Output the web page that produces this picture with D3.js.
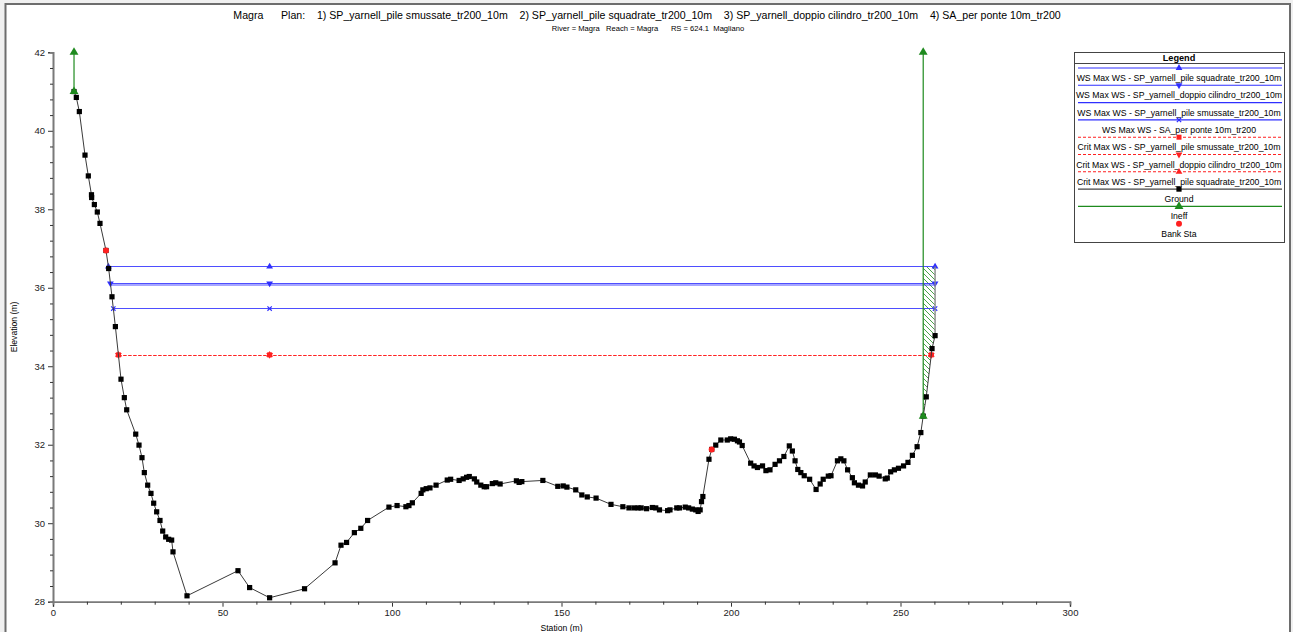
<!DOCTYPE html>
<html>
<head>
<meta charset="utf-8">
<script src="https://cdn.jsdelivr.net/npm/d3@7"></script>
<style>
  html, body { margin: 0; padding: 0; background: #ffffff; }
  svg { display: block; font-family: "Liberation Sans", Arial, sans-serif; }
</style>
</head>
<body>
<svg id="chart" width="1293" height="632"></svg>
<script>
// ---- Cross-section data: River Magra, RS 624.1 Magliano ----
const groundSta = [
  6.2, 6.88, 7.77, 9.44, 10.42, 11.35, 11.4, 12.2, 13.07, 13.86, 15.63, 16.42, 17.4, 18.4,
  20.06, 21.04, 21.74, 24.4, 25.37, 26.25, 26.94, 27.93, 28.9, 29.7, 30.58, 31.56, 32.36,
  33.24, 34.12, 35.0, 35.4, 39.53, 54.57, 58.0, 63.9, 74.2, 83.2, 84.96, 86.6, 88.9, 90.8,
  92.8, 99.1, 101.5, 104.1, 105.0, 106.0, 108.6, 109.1, 110.1, 111.2, 113.0, 116.3, 117.3,
  119.8, 121.0, 122.0, 122.8, 124.3, 125.0, 126.2, 127.2, 127.9, 129.6, 130.6, 131.9, 136.7,
  137.5, 138.3, 144.5, 148.9, 150.5, 151.6, 154.2, 156.0, 157.6, 160.2, 164.6, 168.1, 169.9,
  171.4, 172.6, 173.5, 175.1, 176.8, 177.8, 178.9, 181.3, 182.0, 184.0, 184.8, 186.5, 187.5,
  188.6, 189.6, 190.3, 190.9, 191.3, 191.7, 193.5, 194.3, 195.5, 197.0, 198.9, 199.9, 201.0,
  201.9, 202.5, 203.3, 205.8, 206.8, 207.8, 209.3, 210.3, 211.5, 213.0, 214.3, 215.6, 217.2,
  218.1, 218.9, 219.7, 220.6, 221.6, 223.2, 225.1, 226.3, 227.2, 228.7, 229.5, 231.4, 232.4,
  233.3, 234.4, 235.8, 236.4, 237.6, 238.8, 239.6, 241.1, 242.6, 243.7, 245.5, 246.1, 247.1,
  248.2, 249.4, 250.9, 252.2, 253.5, 254.9, 256.0, 256.7, 257.6, 259.3, 260.2
];
const groundElev = [
  41.0, 40.85, 40.49, 39.38, 38.85, 38.37, 38.30, 38.12, 37.93, 37.64, 36.95, 36.49, 35.77, 35.01,
  33.67, 33.20, 32.89, 32.27, 31.99, 31.67, 31.29, 30.97, 30.76, 30.51, 30.29, 30.07, 29.80,
  29.65, 29.59, 29.57, 29.27, 28.15, 28.79, 28.36, 28.10, 28.33, 28.99, 29.44, 29.51, 29.76, 29.87,
  30.07, 30.41, 30.45, 30.42, 30.45, 30.52, 30.76, 30.85, 30.88, 30.90, 30.97, 31.10, 31.12,
  31.09, 31.13, 31.17, 31.19, 31.13, 31.05, 30.97, 30.93, 30.93, 31.01, 31.03, 31.00, 31.08,
  31.04, 31.06, 31.09, 30.94, 30.95, 30.92, 30.85, 30.72, 30.67, 30.64, 30.48, 30.42, 30.39,
  30.39, 30.39, 30.39, 30.37, 30.40, 30.39, 30.34, 30.32, 30.34, 30.39, 30.39, 30.41, 30.39,
  30.36, 30.34, 30.30, 30.34, 30.55, 30.68, 31.63, 31.88, 31.99, 32.12, 32.12, 32.15, 32.14,
  32.10, 32.07, 31.98, 31.53, 31.46, 31.42, 31.46, 31.34, 31.36, 31.50, 31.59, 31.70, 31.97,
  31.84, 31.59, 31.37, 31.29, 31.21, 31.12, 30.86, 31.00, 31.12, 31.20, 31.21, 31.59, 31.64,
  31.59, 31.36, 31.16, 31.03, 30.97, 30.95, 31.05, 31.23, 31.23, 31.20, 31.13, 31.15, 31.31,
  31.36, 31.40, 31.46, 31.55, 31.73, 31.95, 32.31, 32.73, 33.22, 34.45, 34.78
];
const bankSta = [15.63, 194.3];

// Ineffective flow limits (station, bottom elevation, top elevation)
const ineffSta = [6.2, 256.7];
const ineffLow = [41.0, 32.73];
const ineffHigh = [42.0, 42.0];

// Max water surface of each plan
const wsNames = [
  "WS Max WS - SP_yarnell_pile squadrate_tr200_10m",
  "WS Max WS - SP_yarnell_doppio cilindro_tr200_10m",
  "WS Max WS - SP_yarnell_pile smussate_tr200_10m",
  "WS Max WS - SA_per ponte 10m_tr200"
];
const wsElev = [36.54, 36.11, 36.07, 35.47];
const wsSymbol = ["triUp", "triDown", "none", "x"];

// Critical water surface of each plan
const critNames = [
  "Crit Max WS - SP_yarnell_pile smussate_tr200_10m",
  "Crit Max WS - SP_yarnell_doppio cilindro_tr200_10m",
  "Crit Max WS - SP_yarnell_pile squadrate_tr200_10m"
];
const critElev = [34.29, 34.29, 34.29];
const critSymbol = ["dot", "triDown", "triUp"];

const xTicks = [0, 50, 100, 150, 200, 250, 300];
const yTicks = [28, 30, 32, 34, 36, 38, 40, 42];

const titleText = "Magra      Plan:    1) SP_yarnell_pile smussate_tr200_10m    2) SP_yarnell_pile squadrate_tr200_10m    3) SP_yarnell_doppio cilindro_tr200_10m    4) SA_per ponte 10m_tr200";
const subtitleText = "River = Magra   Reach = Magra      RS = 624.1  Magliano";

// ---- Layout ----
const svg = d3.select("#chart");
const W = 1293, H = 632;
const x = d3.scaleLinear().domain([0, 300]).range([53, 1070]);
const y = d3.scaleLinear().domain([28, 42]).range([601.7, 52.3]);

const BLUE = "#2f2fff", RED = "#ff2020", GREEN = "#1e8a1e", GROUND = "#3a3a3a";

// window frame
svg.append("rect").attr("x", 0).attr("y", 0).attr("width", W).attr("height", H).attr("fill", "#f0f0f0");
svg.append("rect").attr("x", 5.5).attr("y", 4).attr("width", 1284.5).attr("height", H + 10)
  .attr("fill", "#ffffff").attr("stroke", "#6d6d6d").attr("stroke-width", 2);

// titles
svg.append("text").attr("x", 647).attr("y", 19).attr("text-anchor", "middle")
  .attr("font-size", 10.6).attr("fill", "#000").style("white-space", "pre").text(titleText);
svg.append("text").attr("x", 648).attr("y", 31).attr("text-anchor", "middle")
  .attr("font-size", 7.6).attr("fill", "#000").style("white-space", "pre").text(subtitleText);

// ---- helpers ----
const ground = groundSta.map((s, i) => ({ s, e: groundElev[i] }));
function leftCross(e) {
  for (let i = 0; i < ground.length - 1; i++) {
    const a = ground[i], b = ground[i + 1];
    if (a.e >= e && b.e < e) return a.s + (a.e - e) / (a.e - b.e) * (b.s - a.s);
  }
  return ground[0].s;
}
function rightCross(e) {
  const last = ground[ground.length - 1];
  if (last.e < e) return last.s;
  for (let i = ground.length - 1; i > 0; i--) {
    const a = ground[i - 1], b = ground[i];
    if (a.e < e && b.e >= e) return a.s + (e - a.e) / (b.e - a.e) * (b.s - a.s);
  }
  return last.s;
}
const thalweg = ground.reduce((m, p) => (p.e < m.e ? p : m), ground[0]);

function drawSymbol(g, kind, cx, cy, color) {
  if (kind === "triUp" || kind === "triDown") {
    g.append("path").attr("d", d3.symbol(d3.symbolTriangle, 20)())
      .attr("transform", `translate(${cx},${cy})` + (kind === "triDown" ? " rotate(180)" : ""))
      .attr("fill", color);
  } else if (kind === "x") {
    g.append("path").attr("d", d3.symbol(d3.symbolX, 14)())
      .attr("transform", `translate(${cx},${cy})`).attr("fill", "none")
      .attr("stroke", color).attr("stroke-width", 1.2);
  } else if (kind === "dot") {
    g.append("rect").attr("x", cx - 2.5).attr("y", cy - 2.5).attr("width", 5).attr("height", 5).attr("fill", color);
  } else if (kind === "square") {
    g.append("rect").attr("x", cx - 2.6).attr("y", cy - 2.6).attr("width", 5.2).attr("height", 5.2).attr("fill", color);
  } else if (kind === "circle") {
    g.append("circle").attr("cx", cx).attr("cy", cy).attr("r", 3).attr("fill", color);
  } else if (kind === "greenTri") {
    g.append("path").attr("d", d3.symbol(d3.symbolTriangle, 34)())
      .attr("transform", `translate(${cx},${cy})`).attr("fill", color);
  }
}

// ---- axes ----
const axisColor = "#7a7a7a";
const gx = svg.append("g").attr("transform", `translate(0,${y(28)})`);
gx.call(d3.axisBottom(x).tickValues(xTicks).tickSize(5).tickPadding(3).tickFormat(d3.format("d")));
gx.append("g").call(d3.axisBottom(x).tickValues(d3.range(0, 301, 10).filter(v => v % 50)).tickSize(3).tickFormat(""));
const gy = svg.append("g").attr("transform", `translate(${x(0)},0)`);
gy.call(d3.axisLeft(y).tickValues(yTicks).tickSize(5).tickPadding(3).tickFormat(d3.format("d")));
gy.append("g").call(d3.axisLeft(y).tickValues(d3.range(28, 42.01, 0.4).filter(v => Math.abs(v / 2 - Math.round(v / 2)) > 0.01)).tickSize(3).tickFormat(""));
svg.selectAll(".domain").attr("stroke", axisColor).attr("stroke-width", 1.6);
svg.selectAll(".tick line").attr("stroke", "#333");
svg.selectAll(".tick text").attr("font-size", 9.5).attr("fill", "#222").attr("font-family", "Liberation Sans, Arial, sans-serif");

svg.append("text").attr("transform", `translate(17,${(y(28) + y(42)) / 2}) rotate(-90)`)
  .attr("text-anchor", "middle").attr("font-size", 8.6).attr("fill", "#000").text("Elevation (m)");
svg.append("text").attr("x", (x(0) + x(300)) / 2).attr("y", 631).attr("text-anchor", "middle")
  .attr("font-size", 8.6).attr("fill", "#000").text("Station (m)");

// ---- hatched ineffective area on right ----
const defs = svg.append("defs");
const pat = defs.append("pattern").attr("id", "hatch").attr("patternUnits", "userSpaceOnUse")
  .attr("width", 5).attr("height", 5);
pat.append("path").attr("d", "M-1,-1 L6,6 M-1,4 L1,6 M4,-1 L6,1")
  .attr("stroke", GREEN).attr("stroke-width", 0.8);

const topWS = d3.max(wsElev);
const rIneff = ineffSta[1];
const hatchPts = [[rIneff, topWS], [rIneff, ineffLow[1]]]
  .concat(ground.filter(p => p.s > rIneff).map(p => [p.s, p.e]))
  .concat([[ground[ground.length - 1].s, topWS]]);
svg.append("path").attr("d", d3.line().x(d => x(d[0])).y(d => y(d[1]))(hatchPts) + "Z")
  .attr("fill", "url(#hatch)").attr("stroke", "none");

// ---- critical depth lines ----
critElev.forEach((e, i) => {
  const s0 = leftCross(e), s1 = rightCross(e);
  svg.append("line").attr("x1", x(s0)).attr("x2", x(s1)).attr("y1", Math.round(y(e)) + 0.5).attr("y2", Math.round(y(e)) + 0.5)
    .attr("stroke", RED).attr("stroke-width", 0.9).attr("stroke-dasharray", "3,2").attr("stroke-opacity", 0.85);
});
critElev.forEach((e, i) => {
  const g = svg.append("g");
  [leftCross(e), thalweg.s, rightCross(e)].forEach(s => drawSymbol(g, critSymbol[i], x(s), y(e), RED));
});

// ---- water surface lines ----
wsElev.forEach((e, i) => {
  const s0 = leftCross(e), s1 = rightCross(e);
  svg.append("line").attr("x1", x(s0)).attr("x2", x(s1)).attr("y1", y(e)).attr("y2", y(e))
    .attr("stroke", BLUE).attr("stroke-width", 1.1).attr("stroke-opacity", 0.85);
  const g = svg.append("g");
  [s0, thalweg.s, s1].forEach(s => drawSymbol(g, wsSymbol[i], x(s), y(e), BLUE));
});

// ---- ineffective flow limits ----
ineffSta.forEach((s, i) => {
  svg.append("line").attr("x1", x(s)).attr("x2", x(s)).attr("y1", y(ineffLow[i])).attr("y2", y(ineffHigh[i]))
    .attr("stroke", GREEN).attr("stroke-width", 1.2);
});

// ---- ground ----
svg.append("path").attr("d", d3.line().x(d => x(d[0])).y(d => y(d[1]))(ground.map(p => [p.s, p.e])))
  .attr("fill", "none").attr("stroke", GROUND).attr("stroke-width", 1);
svg.append("line").attr("x1", x(ground[ground.length - 1].s)).attr("x2", x(ground[ground.length - 1].s))
  .attr("y1", y(ground[ground.length - 1].e)).attr("y2", y(topWS))
  .attr("stroke", "#8a8a8a").attr("stroke-width", 1.4);
const gg = svg.append("g");
ground.forEach(p => drawSymbol(gg, "square", x(p.s), y(p.e), "#000"));

// ineff markers
ineffSta.forEach((s, i) => {
  drawSymbol(svg, "greenTri", x(s), y(ineffLow[i]), GREEN);
  drawSymbol(svg, "greenTri", x(s), y(ineffHigh[i]), GREEN);
});

// bank stations
bankSta.forEach(s => {
  const p = ground.find(q => Math.abs(q.s - s) < 1e-6);
  drawSymbol(svg, "circle", x(s), y(p.e), RED);
});

// ---- legend ----
const L = { x: 1074, y: 52, w: 210, h: 190 };
const lg = svg.append("g");
lg.append("rect").attr("x", L.x + 0.5).attr("y", L.y + 0.5).attr("width", L.w).attr("height", L.h)
  .attr("fill", "#fff").attr("stroke", "#444").attr("stroke-width", 1);
lg.append("text").attr("x", L.x + L.w / 2).attr("y", L.y + 8.8).attr("text-anchor", "middle")
  .attr("font-size", 9.2).attr("font-weight", "bold").text("Legend");
lg.append("line").attr("x1", L.x).attr("x2", L.x + L.w).attr("y1", L.y + 11.5).attr("y2", L.y + 11.5)
  .attr("stroke", "#444");

const legendItems = []
  .concat(wsNames.map((n, i) => ({ label: n, color: BLUE, dash: null, sym: wsSymbol[i] })))
  .concat(critNames.map((n, i) => ({ label: n, color: RED, dash: "3,2", sym: critSymbol[i] })))
  .concat([{ label: "Ground", color: "#444", dash: null, sym: "square", symColor: "#000" },
           { label: "Ineff", color: GREEN, dash: null, sym: "greenTri" },
           { label: "Bank Sta", color: null, dash: null, sym: "circle", symColor: RED }]);
const cx = L.x + L.w / 2;
legendItems.forEach((it, i) => {
  const ly = 68 + i * 17.3;
  if (it.color) {
    lg.append("line").attr("x1", L.x + 4).attr("x2", L.x + L.w - 2).attr("y1", ly).attr("y2", ly)
      .attr("stroke", it.color).attr("stroke-width", 1.1)
      .attr("stroke-dasharray", it.dash);
  }
  drawSymbol(lg, it.sym, cx, ly, it.symColor || it.color);
  lg.append("text").attr("x", cx).attr("y", ly + 13).attr("text-anchor", "middle")
    .attr("font-size", 8.7).attr("fill", "#000").text(it.label);
});
</script>
</body>
</html>
